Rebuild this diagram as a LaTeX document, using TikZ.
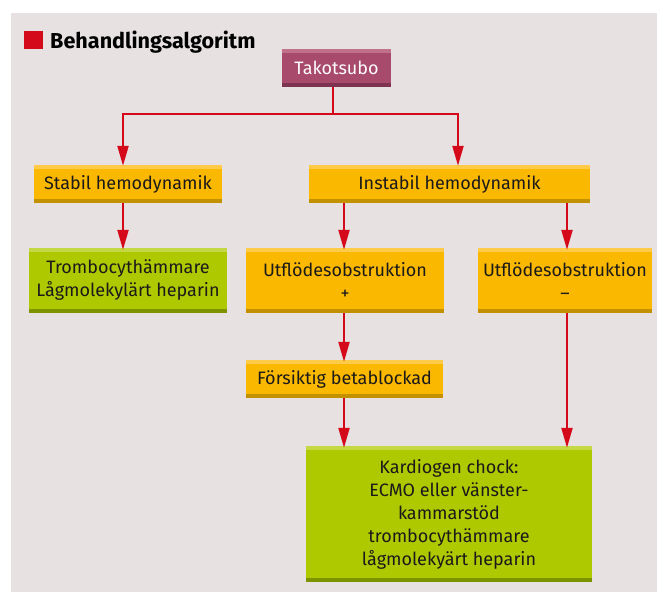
\documentclass[tikz,border=0pt]{standalone}
\usepackage{fontspec}
\setmainfont{Fira Sans}
\usetikzlibrary{arrows.meta}
\definecolor{bg}{HTML}{E7E1E2}
\definecolor{redc}{HTML}{D40A1A}
\definecolor{pinkm}{HTML}{A84A6C}
\definecolor{pinkt}{HTML}{C0708A}
\definecolor{pinkb}{HTML}{7E3450}
\definecolor{orm}{HTML}{FBB800}
\definecolor{ort}{HTML}{FDCB48}
\definecolor{orb}{HTML}{C39000}
\definecolor{grm}{HTML}{AFC900}
\definecolor{grt}{HTML}{C4D844}
\definecolor{grb}{HTML}{7D9300}
\definecolor{txt}{HTML}{1A1A1A}
\tikzset{
  box/.style={inner sep=0pt, align=center, text=txt,
    font=\fontsize{18}{23}\selectfont},
  strips/.style n args={3}{fill=#1, path picture={
      \fill[#2] (path picture bounding box.north west) rectangle ([yshift=-4pt]path picture bounding box.north east);
      \fill[#3] (path picture bounding box.south west) rectangle ([yshift=4pt]path picture bounding box.south east);}},
  orbox/.style={box, strips={orm}{ort}{orb}},
  grbox/.style={box, strips={grm}{grt}{grb}},
  pkbox/.style={box, strips={pinkm}{pinkt}{pinkb}, text=white!95!pink},
  arr/.style={draw=redc, line width=2.2pt, -{Triangle[length=20pt,width=11pt]}},
  ln/.style={draw=redc, line width=2.2pt}
}
\begin{document}
\begin{tikzpicture}[x=1pt,y=-1pt]
\useasboundingbox (0,0) rectangle (657,592);
\fill[bg] (11,13) rectangle (657,592);
\fill[redc] (24,31) rectangle (43,49);
\node[anchor=base west, inner sep=0pt, font=\fontsize{21.6}{26}\selectfont\bfseries, text=black] (title) at (50,48) {Behandlingsalgoritm};

\node[pkbox, minimum width=109pt, minimum height=38pt] (tako) at (336.5,68) {Takotsubo};
\node[orbox, minimum width=188pt, minimum height=38pt] (stabil) at (128,184) {Stabil hemodynamik};
\node[orbox, minimum width=281pt, minimum height=38pt] (instabil) at (449.5,184) {Instabil hemodynamik};
\node[grbox, minimum width=198pt, minimum height=65pt] (trombo) at (128,280.5) {Trombocythämmare\\Lågmolekylärt heparin};
\node[orbox, minimum width=198pt, minimum height=65pt] (utfp) at (345,280.5) {Utflödesobstruktion\\+};
\node[orbox, minimum width=174pt, minimum height=65pt] (utfm) at (565,280.5) {Utflödesobstruktion\\–};
\node[orbox, minimum width=197pt, minimum height=38pt] (fors) at (344.5,379) {Försiktig betablockad};
\node[grbox, minimum width=286pt, minimum height=136pt] (kard) at (449,514) {Kardiogen chock:\\ECMO eller vänster-\\kammarstöd\\trombocythämmare\\lågmolekyärt heparin};

\coordinate (j) at (333,114);
\coordinate (xa) at (123,0);
\coordinate (xb) at (458,0);
\coordinate (xc) at (344,0);
\coordinate (xd) at (567,0);
\draw[ln] (tako.south -| j) -- (j);
\draw[arr] (j) -| ([yshift=-1pt]stabil.north -| xa);
\draw[arr] (j) -| ([yshift=-1pt]instabil.north -| xb);
\draw[arr] (stabil.south -| xa) -- ([yshift=-2pt]trombo.north -| xa);
\draw[arr] (instabil.south -| xc) -- ([yshift=-2pt]utfp.north -| xc);
\draw[arr] (instabil.south -| xd) -- ([yshift=-2pt]utfm.north -| xd);
\draw[arr] (utfp.south -| xc) -- ([yshift=-2pt]fors.north -| xc);
\draw[arr] (fors.south -| xc) -- ([yshift=-2pt]kard.north -| xc);
\draw[arr] (utfm.south -| xd) -- ([yshift=-2pt]kard.north -| xd);
\end{tikzpicture}
\end{document}
